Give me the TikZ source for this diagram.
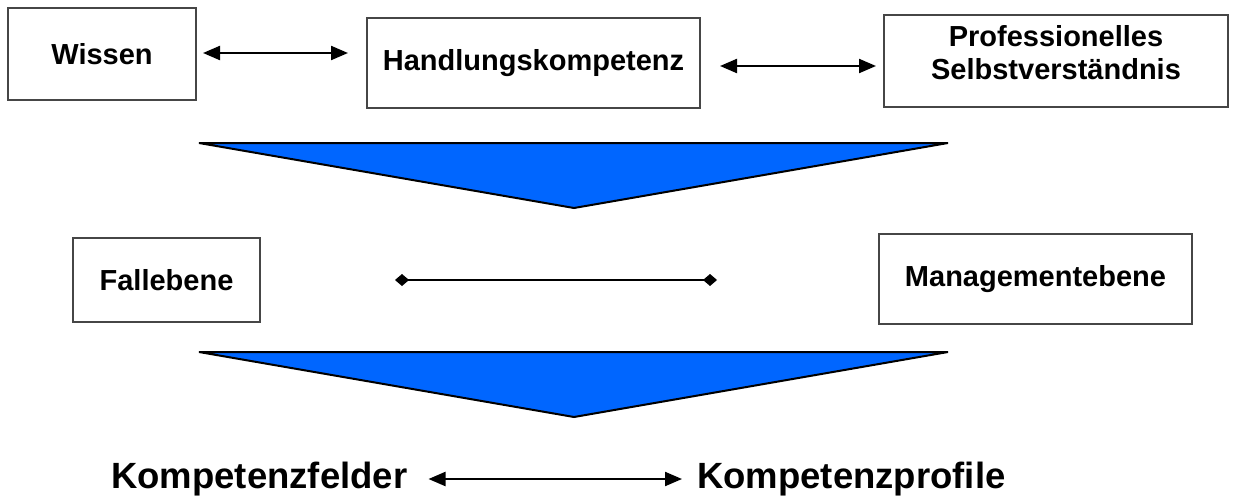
\documentclass[tikz,border=0pt]{standalone}
\usepackage{fontspec}
\setmainfont{Liberation Sans}
\usetikzlibrary{arrows.meta}
\definecolor{triblue}{RGB}{0,102,255}
\definecolor{boxgray}{RGB}{70,70,70}
\tikzset{
  box/.style={draw=boxgray,line width=1.3pt,fill=white,inner sep=0pt,align=center,
    font=\fontsize{29}{33}\selectfont\bfseries},
  dbl/.style={line width=2.2pt,{Triangle[length=17pt,width=14pt]}-{Triangle[length=17pt,width=14pt]}},
  dia/.style={line width=2pt,{Diamond[length=14pt,width=12pt]}-{Diamond[length=14pt,width=12pt]}},
  funnel/.style={draw=black,line width=2pt,fill=triblue,line join=miter},
  big/.style={inner sep=0pt,font=\fontsize{36.5}{40}\selectfont\bfseries}
}
\begin{document}
\begin{tikzpicture}[x=1pt,y=-1pt]
\useasboundingbox (0,0) rectangle (1236,498);
% top row
\node[box,minimum width=188pt,minimum height=92pt] (wis) at (102,54) {Wissen};
\node[box,minimum width=333pt,minimum height=90pt] (hk) at (533.5,63) {Handlungskompetenz};
\node[box,minimum width=344pt,minimum height=92pt,text depth=18pt] (ps) at (1056,61) {Professionelles\\Selbstverständnis};
\coordinate (a1l) at (203,53);
\coordinate (a1r) at (348,53);
\coordinate (a2l) at (720,66);
\coordinate (a2r) at (876,66);
\draw[dbl] (a1l) -- (a1r);
\draw[dbl] (a2l) -- (a2r);
% first funnel
\coordinate (f1a) at (199,143);
\coordinate (f1b) at (948,143);
\coordinate (f1c) at (574,208);
\draw[funnel] (f1a) -- (f1b) -- (f1c) -- cycle;
% middle row
\node[box,minimum width=187pt,minimum height=84pt] (fe) at (166.5,280) {Fallebene};
\node[box,minimum width=313pt,minimum height=90pt] (me) at (1035.5,279) {Managementebene};
\coordinate (dl) at (395,280);
\coordinate (dr) at (717,280);
\draw[dia] (dl) -- (dr);
% second funnel
\coordinate (f2a) at (199,352);
\coordinate (f2b) at (948,352);
\coordinate (f2c) at (574,417);
\draw[funnel] (f2a) -- (f2b) -- (f2c) -- cycle;
% bottom row
\node[big,anchor=base west] (kf) at (111,488) {Kompetenzfelder};
\node[big,anchor=base west] (kp) at (697,488) {Kompetenzprofile};
\draw[dbl] ([xshift=21pt,yshift=9pt]kf.base east) -- ([xshift=-15pt,yshift=9pt]kp.base west);
\end{tikzpicture}
\end{document}
